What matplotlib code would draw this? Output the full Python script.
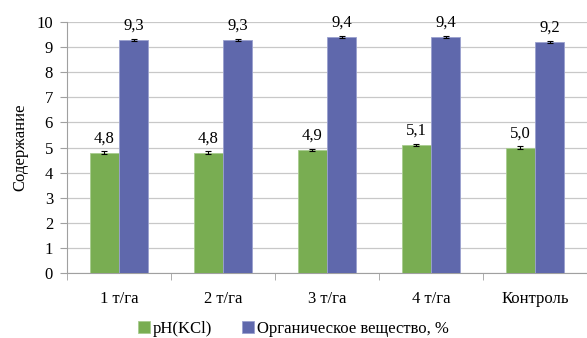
import numpy as np
import matplotlib
matplotlib.use("Agg")
from matplotlib import pyplot as plt
from matplotlib import font_manager

categories = ["1 т/га", "2 т/га", "3 т/га", "4 т/га", "Контроль"]
ph_values = [4.8, 4.8, 4.9, 5.1, 5.0]
org_values = [9.3, 9.3, 9.4, 9.4, 9.2]
ph_err = [0.05, 0.05, 0.05, 0.05, 0.05]
org_err = [0.04, 0.04, 0.04, 0.04, 0.04]
series_names = ["pH(KCl)", "Органическое вещество, %"]

# make sure the Times-like serif font is registered
for f in font_manager.findSystemFonts():
    if 'LiberationSerif' in f or 'Liberation Serif' in f:
        font_manager.fontManager.addfont(f)
plt.rcParams['font.family'] = 'serif'
plt.rcParams['font.serif'] = ['Liberation Serif', 'Times New Roman', 'DejaVu Serif']

fig = plt.figure(figsize=(5.87, 3.38), dpi=100)
ax = fig.add_axes([67/587, 65/338, 520/587, 251/338])

x = np.arange(len(categories))
w = 0.283
green = '#79ad52'
blue = '#5f68ac'

b1 = ax.bar(x - w/2, ph_values, w, color=green, edgecolor='#a9cc90', linewidth=0.6,
            yerr=ph_err, error_kw=dict(ecolor='black', elinewidth=0.8, capsize=2.5, capthick=0.8),
            zorder=3, label=series_names[0])
b2 = ax.bar(x + w/2, org_values, w, color=blue, edgecolor='#9aa0cf', linewidth=0.6,
            yerr=org_err, error_kw=dict(ecolor='black', elinewidth=0.8, capsize=2.5, capthick=0.8),
            zorder=3, label=series_names[1])

for xi, v, e in zip(x - w/2, ph_values, ph_err):
    ax.text(xi, v + e + 0.2, f"{v:.1f}".replace('.', ','), ha='center', va='bottom', fontsize=12)
for xi, v, e in zip(x + w/2, org_values, org_err):
    ax.text(xi, v + e + 0.2, f"{v:.1f}".replace('.', ','), ha='center', va='bottom', fontsize=12)

ax.set_ylim(0, 10)
ax.set_xlim(-0.5, 4.5 - 11/106)
ax.set_yticks(range(0, 11))
ax.yaxis.grid(True, color='#c8c8c8', linewidth=0.9, zorder=0)
ax.set_axisbelow(True)

ax.set_xticks(x)
ax.set_xticklabels(categories, fontsize=12)
ax.set_xticks(np.arange(-0.5, 4.6, 1), minor=True)
ax.tick_params(axis='x', which='major', length=0, pad=13)
ax.tick_params(axis='x', which='minor', length=5, color='#a0a0a0', direction='out')
ax.tick_params(axis='y', length=5, color='#a0a0a0', labelsize=12, pad=5)

for s in ['top', 'right']:
    ax.spines[s].set_visible(False)
ax.spines['left'].set_color('#a0a0a0')
ax.spines['bottom'].set_color('#a0a0a0')

ax.set_ylabel("Содержание", fontsize=12, labelpad=6)

fig.legend(handles=[b1, b2], labels=series_names, loc='lower center', bbox_to_anchor=(0.5, -0.04),
           ncol=2, frameon=False, fontsize=12, handlelength=0.7, handleheight=0.7,
           handletextpad=0.2, columnspacing=1.8)

fig.savefig("out.png", dpi=100)
